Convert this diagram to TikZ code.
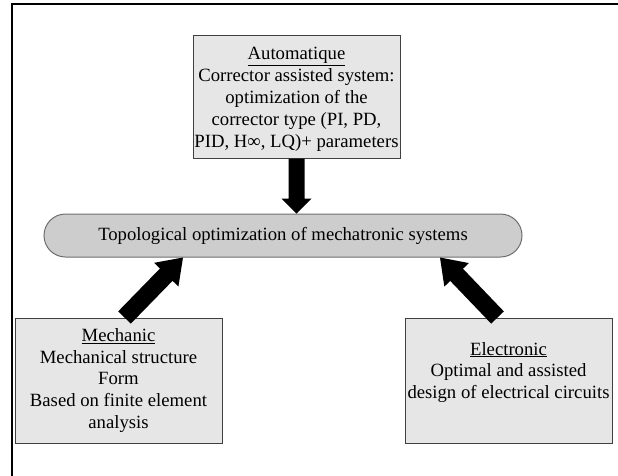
\documentclass[tikz,border=0pt]{standalone}
\usepackage{fontspec}
\setmainfont{Liberation Serif}
\usetikzlibrary{calc}

\definecolor{boxfill}{HTML}{E6E6E6}
\definecolor{pillfill}{HTML}{CDCDCD}
\definecolor{boxedge}{HTML}{404040}
\definecolor{pilledge}{HTML}{6E6E6E}

\tikzset{
  panel/.style={draw=boxedge, line width=1pt, fill=boxfill,
    minimum width=207pt, minimum height=124pt, inner sep=0pt},
  body/.style={align=center, inner sep=0pt, text=black,
    font=\fontsize{18.7pt}{21.9pt}\selectfont},
  pill/.style={draw=pilledge, line width=1pt, fill=pillfill,
    rounded corners=21.5pt, minimum width=478pt, minimum height=43pt,
    inner sep=0pt, font=\fontsize{18.7pt}{21.9pt}\selectfont},
  frame/.style={draw=black, line width=1.5pt},
  fat/.style={fill=black},
}

% Block arrow from #1 to #2: half shaft width #3, half head width #4, head length #5
\newcommand\fatarrow[5]{%
  \coordinate (fa-b) at ($(#2)!#5!(#1)$);
  \fill[fat] ($(#1)!#3!90:(#2)$) -- ($(fa-b)!#3!90:(#2)$)
    -- ($(fa-b)!#4!90:(#2)$) -- (#2) -- ($(fa-b)!#4!-90:(#2)$)
    -- ($(fa-b)!#3!-90:(#2)$) -- ($(#1)!#3!-90:(#2)$) -- cycle;
}

\begin{document}
\begin{tikzpicture}[x=1pt,y=-1pt]
  \useasboundingbox (0,0) rectangle (618,475);

  % outer frame (top and left edges)
  \draw[frame] (12,476) -- (12,4) -- (619,4);

  % central goal
  \node[pill] (pill) at (283,235.5) {Topological optimization of mechatronic systems};

  % the three domains
  \node[panel, minimum height=123pt] (auto) at (296.5,96.5) {};
  \node[body] (autotxt) at (296.5,99.5) {\underline{Automatique}\\Corrector assisted system:\\optimization of the\\corrector type (PI, PD,\\PID, H∞, LQ)+ parameters};

  \node[panel, minimum height=125pt] (mech) at (118.5,380.5) {};
  \node[body] (mechtxt) at (118.5,380.5) {\underline{Mechanic}\\Mechanical structure\\Form\\Based on finite element\\analysis};

  \node[panel, minimum height=125pt] (elec) at (508.5,380.5) {};
  \node[body] (electxt) at (508.5,372.5) {\underline{Electronic}\\Optimal and assisted\\design of electrical circuits};

  % arrow end points
  \coordinate (atip) at (auto.south |- pill.north);
  \coordinate (mtail) at ($(mech.north)+(6,0)$);
  \coordinate (mtip) at ($(pill.south)+(-100,0)$);
  \coordinate (etail) at ($(elec.north)+(-11,0)$);
  \coordinate (etip) at ($(pill.south)+(157,0)$);

  \fatarrow{auto.south}{atip}{8pt}{15pt}{15pt}
  \fatarrow{mtail}{mtip}{8.8pt}{17pt}{24pt}
  \fatarrow{etail}{etip}{8.8pt}{17pt}{24pt}
\end{tikzpicture}
\end{document}
